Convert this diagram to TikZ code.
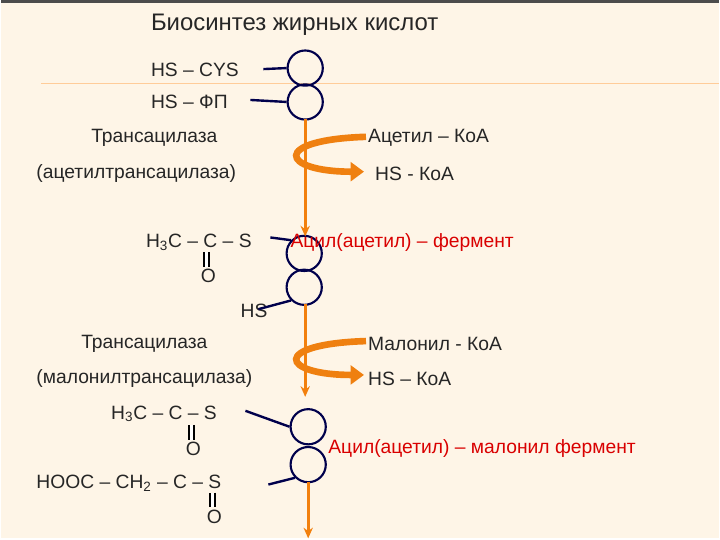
\documentclass[tikz,border=0pt]{standalone}
\usepackage{fontspec}
\setmainfont{Liberation Sans}
\usetikzlibrary{arrows.meta}
\begin{document}
\begin{tikzpicture}[x=0.75pt,y=-0.75pt,
 txt/.style={anchor=west,inner sep=0,text=black!85,font=\fontsize{14.5}{15}\selectfont},
 red/.style={txt,text=red!85!black},
 ring/.style={draw=blue!30!black,line width=1.6pt,circle,minimum size=26.5pt,inner sep=0},
 bond/.style={draw=blue!30!black,line width=1.8pt},
 varr/.style={draw=orange!80!brown,line width=2.2pt,-{Stealth[length=8pt,width=7pt]}},
 carr/.style={draw=orange!75!brown,line width=5pt,-{Triangle[length=10pt,width=14pt]}},
 dbl/.style={draw=black,line width=1.6pt,double distance=2.2pt}]
\fill[yellow!12!orange!8!white] (0,0) rectangle (720,540);
\draw[black!70,line width=2pt] (0,1) -- (720,1);
\draw[orange!40,line width=0.6pt] (40,83) -- (720,83);
\node[txt,font=\fontsize{18}{20}\selectfont] (title) at (150,25) {Биосинтез жирных кислот};
\node[ring] (c1) at (305,68) {};
\node[ring] (c2) at (305,102) {};
\node[ring] (c3) at (304,254) {};
\node[ring] (c4) at (304,288) {};
\node[ring] (c5) at (308,428) {};
\node[ring] (c6) at (308,466) {};
\node[txt] (t1) at (150,70) {HS – CYS};
\node[txt] (t2) at (150,102) {HS – ФП};
\draw[bond] (263,69) -- (c1.west);
\draw[bond] (250,100) -- (c2.west);
\node[txt] (t3) at (90,138) {Трансацилаза};
\node[txt] (t4) at (35,174) {(ацетилтрансацилаза)};
\node[txt] (t5) at (368,138) {Ацетил – КоА};
\node[txt] (t6) at (375,174) {HS - КоА};
\coordinate (a1) at (305,119);
\coordinate (a2) at (305,237);
\draw[varr] (a1) -- (a2);
\coordinate (s1) at (366,137);
\coordinate (e1) at (364,172);
\draw[carr] (s1) .. controls (270,140) and (280,172) .. (e1);
\node[txt] (m1) at (145,243) {H\textsubscript{3}C – C – S};
\node[txt] (o1) at (200,277) {O};
\draw[dbl] (206,253) -- (206,268);
\draw[bond] (270,238) -- (c3.north west);
\node[red] (r1) at (290,243) {Ацил(ацетил) – фермент};
\node[txt] (hs) at (240,312) {HS};
\draw[bond] (258,310) -- (c4.south west);
\coordinate (a3) at (305,305);
\coordinate (a4) at (305,398);
\draw[varr] (a3) -- (a4);
\node[txt] (t7) at (80,345) {Трансацилаза};
\node[txt] (t8) at (35,380) {(малонилтрансацилаза)};
\node[txt] (t9) at (368,345) {Малонил - КоА};
\node[txt] (t10) at (368,380) {HS – КоА};
\coordinate (s2) at (366,342);
\coordinate (e2) at (364,376);
\draw[carr] (s2) .. controls (270,345) and (280,376) .. (e2);
\node[txt] (m2) at (110,415) {H\textsubscript{3}C – C – S};
\node[txt] (o2) at (185,450) {O};
\draw[dbl] (191,426) -- (191,441);
\draw[bond] (245,412) -- (c5.west);
\node[red] (r2) at (328,450) {Ацил(ацетил) – малонил фермент};
\node[txt] (m3) at (35,485) {HOOC – CH\textsubscript{2} – C – S};
\node[txt] (o3) at (206,518) {O};
\draw[dbl] (212,494) -- (212,509);
\draw[bond] (268,486) -- (c6.south west);
\coordinate (a5) at (308,483);
\coordinate (a6) at (308,540);
\draw[varr] (a5) -- (a6);
\end{tikzpicture}
\end{document}
